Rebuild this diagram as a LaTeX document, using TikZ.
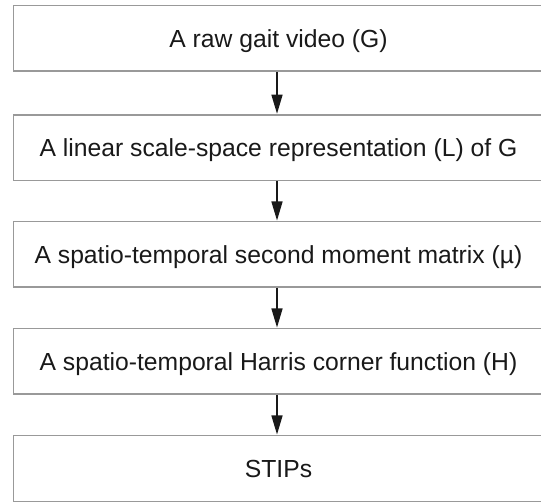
\documentclass[tikz,border=0pt]{standalone}
\usepackage{fontspec}
\setmainfont{Liberation Sans}
\usetikzlibrary{arrows.meta}
\tikzset{
  stagebox/.style={draw=black!40, line width=1.5pt, fill=white, rectangle,
    minimum width=530pt, minimum height=65.5pt, inner sep=0pt,
    text height=17.7pt, text depth=0pt,
    font=\fontsize{24.7pt}{28pt}\selectfont, text=black!90},
  flowarrow/.style={draw=black!90, line width=1.3pt,
    -{Triangle[length=19pt,width=11pt]}, shorten >=0.5pt}
}
\begin{document}
\begin{tikzpicture}[x=1pt,y=-1pt]
  \path[use as bounding box] (0,0) rectangle (541,502);
  \begin{scope}
  \clip (0,0) rectangle (541,502);
  \node[stagebox] (g) at (278.5,38.5) {A raw gait video (G)};
  \node[stagebox] (l) at (278.5,147.75) {A linear scale-space representation (L) of G};
  \node[stagebox] (mu) at (278.5,254.5) {A spatio-temporal second moment matrix (\textmu)};
  \node[stagebox] (h) at (278.5,361.5) {A spatio-temporal Harris corner function (H)};
  \node[stagebox] (s) at (278.5,468.5) {STIPs};
  \draw[flowarrow] (g.south -| 277,0) -- (l.north -| 277,0);
  \draw[flowarrow] (l.south -| 277,0) -- (mu.north -| 277,0);
  \draw[flowarrow] (mu.south -| 277,0) -- (h.north -| 277,0);
  \draw[flowarrow] (h.south -| 277,0) -- (s.north -| 277,0);
  \end{scope}
\end{tikzpicture}
\end{document}
